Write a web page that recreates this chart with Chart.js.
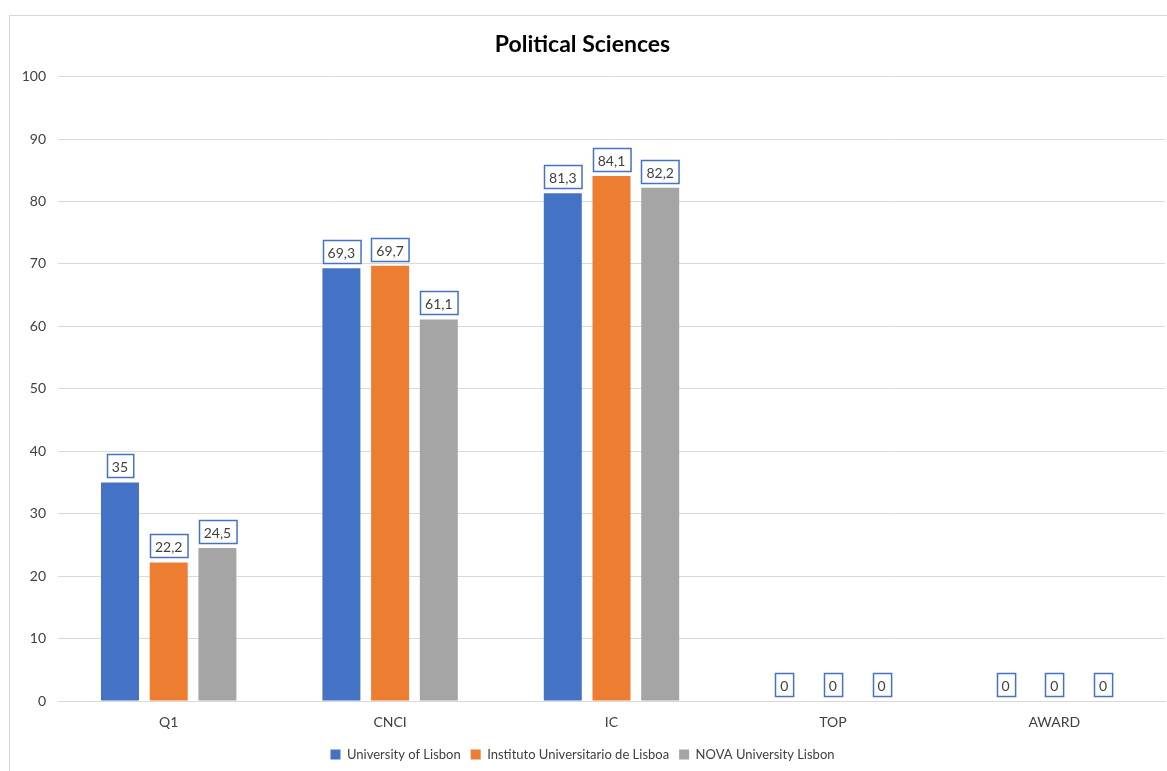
<!DOCTYPE html>
<html>
<head>
<meta charset="utf-8">
<script src="https://cdn.jsdelivr.net/npm/chart.js@4"></script>
<style>
  html, body { margin: 0; padding: 0; background: #fff; overflow: hidden; }
  #wrap { position: relative; width: 1167px; height: 771px; }
  #frame { position: absolute; left: 9px; top: 15px; width: 1300px; height: 900px; border: 1px solid #d9d9d9; }
  canvas { position: absolute; left: 0; top: 0; }
</style>
</head>
<body>
<div id="wrap">
  <div id="frame"></div>
  <canvas id="chart" width="1167" height="771"></canvas>
</div>
<script>
const categories = ['Q1', 'CNCI', 'IC', 'TOP', 'AWARD'];
const lisbonValues = [35, 69.3, 81.3, 0, 0];
const iscteValues = [22.2, 69.7, 84.1, 0, 0];
const novaValues = [24.5, 61.1, 82.2, 0, 0];
const seriesNames = ['University of Lisbon', 'Instituto Universitario de Lisboa', 'NOVA University Lisbon'];
const seriesColors = ['#4472C4', '#ED7D31', '#A5A5A5'];

const FONT = 'Lato, "Open Sans", sans-serif';

// boxed value labels above each bar
const boxedLabels = {
  id: 'boxedLabels',
  afterDatasetsDraw(chart) {
    const ctx = chart.ctx;
    ctx.save();
    ctx.font = '14px ' + FONT;
    ctx.textAlign = 'center';
    ctx.textBaseline = 'middle';
    chart.data.datasets.forEach((ds, i) => {
      chart.getDatasetMeta(i).data.forEach((bar, j) => {
        const txt = String(ds.data[j]).replace('.', ',');
        const w = ctx.measureText(txt).width + 10;
        const h = 23;
        const x = Math.round(bar.x - w / 2) + 0.5;
        const y = Math.round(bar.y - 5 - h) + 0.5;
        ctx.fillStyle = '#fff';
        ctx.fillRect(x, y, w, h);
        ctx.strokeStyle = '#4472C4';
        ctx.lineWidth = 1.5;
        ctx.strokeRect(x, y, w, h);
        ctx.fillStyle = '#404040';
        ctx.fillText(txt, bar.x, y + h / 2 + 1);
      });
    });
    ctx.restore();
  }
};

new Chart(document.getElementById('chart'), {
  type: 'bar',
  data: {
    labels: categories,
    datasets: [lisbonValues, iscteValues, novaValues].map((vals, i) => ({
      label: seriesNames[i],
      data: vals,
      backgroundColor: seriesColors[i],
      borderWidth: 0,
      categoryPercentage: 0.66,
      barPercentage: 0.78
    }))
  },
  options: {
    responsive: false,
    animation: false,
    layout: { padding: { left: 0, right: 2, top: 15, bottom: 0 } },
    plugins: {
      title: {
        display: true,
        text: 'Political Sciences',
        color: '#000',
        font: { family: FONT, size: 23, weight: 'bold' },
        padding: { top: 16, bottom: 18 }
      },
      legend: {
        position: 'bottom',
        labels: {
          color: '#404040',
          font: { family: FONT, size: 13 },
          boxWidth: 10,
          boxHeight: 10,
          padding: 10
        }
      },
      tooltip: { enabled: false }
    },
    scales: {
      x: {
        grid: { display: false },
        border: { display: true, color: '#d9d9d9', width: 1 },
        ticks: { color: '#404040', font: { family: FONT, size: 14 }, padding: 5 },
        afterFit: s => { s.height = 37; }
      },
      y: {
        min: 0,
        max: 100,
        ticks: { stepSize: 10, color: '#404040', font: { family: FONT, size: 14 }, padding: 12 },
        grid: { color: '#d9d9d9', drawTicks: false },
        border: { display: false },
        afterFit: s => { s.width = 58; }
      }
    }
  },
  plugins: [boxedLabels]
});
</script>
</body>
</html>
